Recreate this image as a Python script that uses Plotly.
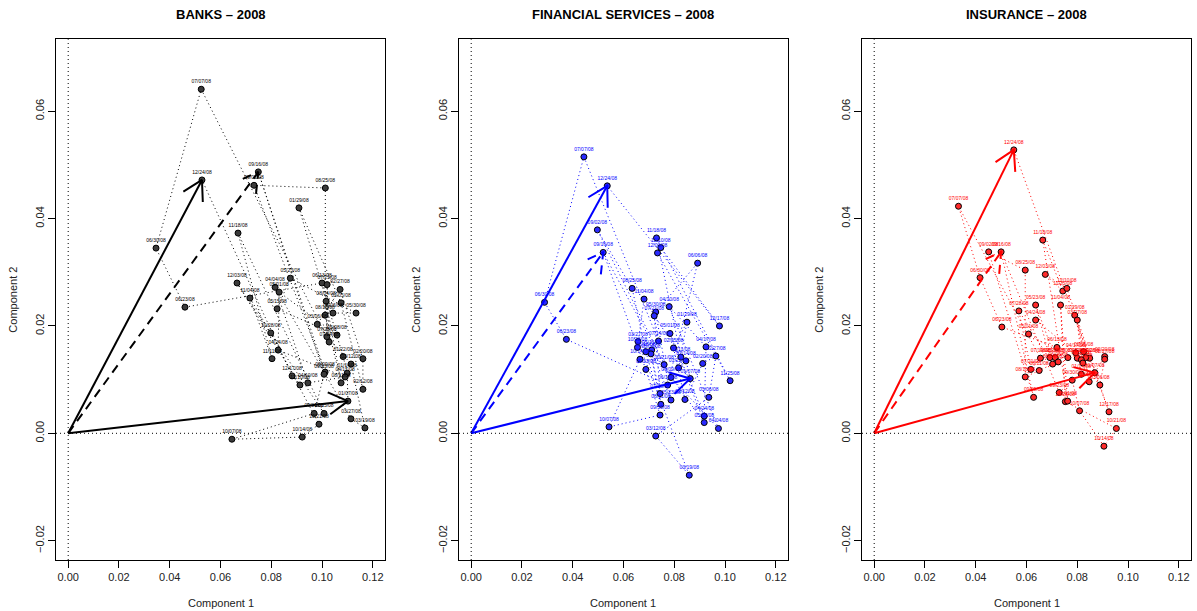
import math
import plotly.graph_objects as go

dates = ["01/07/08","01/14/08","01/22/08","01/29/08","02/05/08","02/12/08","02/20/08","02/27/08",
         "03/06/08","03/12/08","03/19/08","03/27/08","04/04/08","04/10/08","04/17/08","04/24/08",
         "05/01/08","05/08/08","05/15/08","05/23/08","05/30/08","06/06/08","06/13/08","06/23/08",
         "06/30/08","07/07/08","07/14/08","07/21/08","07/28/08","08/04/08","08/11/08","08/18/08",
         "08/25/08","09/02/08","09/09/08","09/16/08","09/23/08","09/30/08","10/07/08","10/14/08",
         "10/21/08","10/28/08","11/04/08","11/11/08","11/18/08","11/25/08","12/03/08","12/10/08",
         "12/17/08","12/24/08"]

banks_c1 = [0.1102,0.1099,0.1083,0.0909,0.1075,0.1161,0.1161,0.1071,0.0981,0.1114,0.1169,0.1114,
            0.0815,0.0944,0.1091,0.0827,0.0831,0.1059,0.0823,0.0875,0.1134,0.1043,0.1000,0.0460,
            0.0346,0.0524,0.1028,0.1020,0.1019,0.1016,0.1075,0.1012,0.1013,0.0732,0.1012,0.0749,
            0.1008,0.0969,0.0645,0.0922,0.0988,0.0798,0.0716,0.0803,0.0669,0.1008,0.0665,0.0913,
            0.0882,0.0527]
banks_c2 = [0.0060,0.0112,0.0143,0.0420,0.0243,0.0082,0.0139,0.0268,0.0203,0.0129,0.0010,0.0027,
            0.0272,0.0094,0.0105,0.0155,0.0263,0.0183,0.0232,0.0289,0.0224,0.0224,0.0280,0.0235,
            0.0345,0.0641,0.0170,0.0277,0.0180,0.0246,0.0094,0.0220,0.0457,0.0462,0.0114,0.0487,
            0.0110,0.0037,-0.0011,-0.0007,0.0017,0.0187,0.0252,0.0139,0.0373,0.0037,0.0280,0.0090,
            0.0107,0.0472]

fin_c1 = [0.0863,0.0846,0.0817,0.0850,0.0797,0.0842,0.0912,0.0964,0.0936,0.0727,0.0859,0.0657,
          0.0974,0.0780,0.0925,0.0918,0.0783,0.0918,0.0711,0.0787,0.0727,0.0892,0.0774,0.0375,
          0.0289,0.0444,0.0738,0.0721,0.0744,0.0708,0.0747,0.0688,0.0634,0.0497,0.0787,0.0520,
          0.0688,0.0744,0.0543,0.0665,0.0760,0.0655,0.0681,0.0826,0.0730,0.1020,0.0734,0.0747,
          0.0978,0.0536]
fin_c2 = [0.0102,0.0135,0.0122,0.0207,0.0159,0.0063,0.0130,0.0144,0.0067,-0.0005,-0.0078,0.0171,
          0.0009,0.0236,0.0161,0.0032,0.0186,0.0020,0.0155,0.0062,0.0226,0.0317,0.0090,0.0175,
          0.0244,0.0515,0.0172,0.0219,0.0074,0.0148,0.0054,0.0152,0.0270,0.0379,0.0104,0.0337,
          0.0119,0.0034,0.0012,0.0138,0.0128,0.0160,0.0250,0.0142,0.0364,0.0098,0.0336,0.0346,
          0.0200,0.0461]

ins_c1 = [0.0869,0.0816,0.0849,0.0790,0.0825,0.0847,0.0908,0.0908,0.0889,0.0800,0.0833,0.0800,
          0.0816,0.0822,0.0794,0.0636,0.0608,0.0763,0.0692,0.0636,0.0713,0.0725,0.0720,0.0503,
          0.0417,0.0332,0.0655,0.0617,0.0570,0.0703,0.0650,0.0595,0.0595,0.0451,0.0628,0.0500,
          0.0729,0.0780,0.0809,0.0905,0.0954,0.0753,0.0734,0.0762,0.0664,0.0743,0.0674,0.0759,
          0.0925,0.0550]
ins_c2 = [0.0113,0.0110,0.0140,0.0220,0.0152,0.0096,0.0143,0.0138,0.0090,0.0140,0.0141,0.0211,
          0.0137,0.0131,0.0150,0.0211,0.0185,0.0141,0.0141,0.0239,0.0141,0.0133,0.0160,0.0198,
          0.0290,0.0423,0.0140,0.0119,0.0228,0.0129,0.0117,0.0105,0.0304,0.0338,0.0067,0.0338,
          0.0076,0.0099,0.0042,-0.0024,0.0009,0.0059,0.0239,0.0060,0.0360,0.0265,0.0296,0.0270,
          0.0040,0.0528]

titles = ["BANKS \u2013 2008", "FINANCIAL SERVICES \u2013 2008", "INSURANCE \u2013 2008"]
colors = ["#000000", "#0000FF", "#FF0000"]
fills = ["#3a3a3a", "#2a2aff", "#ff2a2a"]
solid_arrow_dates = ["01/07/08", "12/24/08"]
dashed_arrow_dates = ["09/16/08"]
xticks = [0.00, 0.02, 0.04, 0.06, 0.08, 0.10, 0.12]
yticks = [-0.02, 0.00, 0.02, 0.04, 0.06]

panels = [(banks_c1, banks_c2), (fin_c1, fin_c2), (ins_c1, ins_c2)]

W, H = 1197, 611
xr = [-0.0048, 0.1248]
yr = [-0.0236, 0.0734]
xdoms = [[56 / W, 385 / W], [459 / W, 788 / W], [862 / W, 1191 / W]]
ydom = [1 - 560 / H, 1 - 39.3 / H]

fig = go.Figure()
annotations = []
shapes = []

def arrow_head(x0, y0, x1, y1, sx, sy, L=22, ang=math.radians(30)):
    dx = (x1 - x0) * sx
    dy = (y1 - y0) * sy
    th = math.atan2(dy, dx)
    hx, hy = [], []
    for s in (1, -1):
        a = th + math.pi + s * ang
        hx.append(x1 + L * math.cos(a) / sx)
        hy.append(y1 + L * math.sin(a) / sy)
    return [hx[0], x1, hx[1]], [hy[0], y1, hy[1]]

for i, (cx, cy) in enumerate(panels):
    n = i + 1
    xa = "x" if n == 1 else f"x{n}"
    ya = "y" if n == 1 else f"y{n}"
    col = colors[i]
    sx = (xdoms[i][1] - xdoms[i][0]) * W / (xr[1] - xr[0])
    sy = (ydom[1] - ydom[0]) * H / (yr[1] - yr[0])

    # reference lines at 0
    shapes.append(dict(type="line", xref=xa, yref=f"{ya} domain", x0=0, x1=0, y0=0, y1=1,
                       line=dict(color="black", width=1, dash="1px,3px")))
    shapes.append(dict(type="line", xref=f"{xa} domain", yref=ya, x0=0, x1=1, y0=0, y1=0,
                       line=dict(color="black", width=1, dash="1px,3px")))

    # path through time
    fig.add_trace(go.Scatter(x=cx, y=cy, mode="lines", xaxis=xa, yaxis=ya,
                             line=dict(color=col, width=1, dash="1px,3px"),
                             hoverinfo="skip", showlegend=False))
    # points + labels
    fig.add_trace(go.Scatter(x=cx, y=cy, mode="markers+text", xaxis=xa, yaxis=ya,
                             text=dates, textposition="top center",
                             textfont=dict(size=5, color=col, family="Liberation Sans, Arial"),
                             marker=dict(size=6, color=fills[i], line=dict(color="black", width=1)),
                             showlegend=False))
    # arrows
    for dlist, dash in ((solid_arrow_dates, "solid"), (dashed_arrow_dates, "9px,6px")):
        for d in dlist:
            k = dates.index(d)
            tx, ty = cx[k], cy[k]
            fig.add_trace(go.Scatter(x=[0, tx], y=[0, ty], mode="lines", xaxis=xa, yaxis=ya,
                                     line=dict(color=col, width=2, dash=dash),
                                     hoverinfo="skip", showlegend=False))
            hx, hy = arrow_head(0, 0, tx, ty, sx, sy)
            fig.add_trace(go.Scatter(x=hx, y=hy, mode="lines", xaxis=xa, yaxis=ya,
                                     line=dict(color=col, width=2, dash=dash),
                                     hoverinfo="skip", showlegend=False))

    axcommon = dict(showline=True, mirror=True, linecolor="black", linewidth=1,
                    ticks="outside", ticklen=7, tickcolor="black", showgrid=False, zeroline=False,
                    tickfont=dict(size=11, color="#222222", family="Liberation Sans, Arial"))
    fig.update_layout(**{
        ("xaxis" if n == 1 else f"xaxis{n}"): dict(domain=xdoms[i], range=xr, anchor=ya,
                                                  tickvals=xticks, ticktext=[f"{v:.2f}" for v in xticks],
                                                  **axcommon),
        ("yaxis" if n == 1 else f"yaxis{n}"): dict(domain=ydom, range=yr, anchor=xa,
                                                  tickvals=yticks,
                                                  ticktext=[f"{v:.2f}".replace("-", "\u2212") for v in yticks],
                                                  tickangle=-90, **axcommon),
    })
    xc = (xdoms[i][0] + xdoms[i][1]) / 2
    annotations.append(dict(text=f"<b>{titles[i]}</b>", x=xc, y=1 - 15 / H, xref="paper", yref="paper",
                            showarrow=False, xanchor="center", yanchor="middle",
                            font=dict(size=13, color="black", family="Liberation Sans, Arial")))
    annotations.append(dict(text="Component 1", x=xc, y=1 - 603 / H, xref="paper", yref="paper",
                            showarrow=False, xanchor="center", yanchor="middle",
                            font=dict(size=11, color="#222222", family="Liberation Sans, Arial")))
    annotations.append(dict(text="Component 2", x=xdoms[i][0] - 43 / W, y=(ydom[0] + ydom[1]) / 2,
                            xref="paper", yref="paper", textangle=-90,
                            showarrow=False, xanchor="center", yanchor="middle",
                            font=dict(size=11, color="#222222", family="Liberation Sans, Arial")))

fig.update_layout(width=W, height=H, autosize=False, margin=dict(l=0, r=0, t=0, b=0),
                  paper_bgcolor="white", plot_bgcolor="white",
                  annotations=annotations, shapes=shapes, showlegend=False)

fig.write_html("out.html")
